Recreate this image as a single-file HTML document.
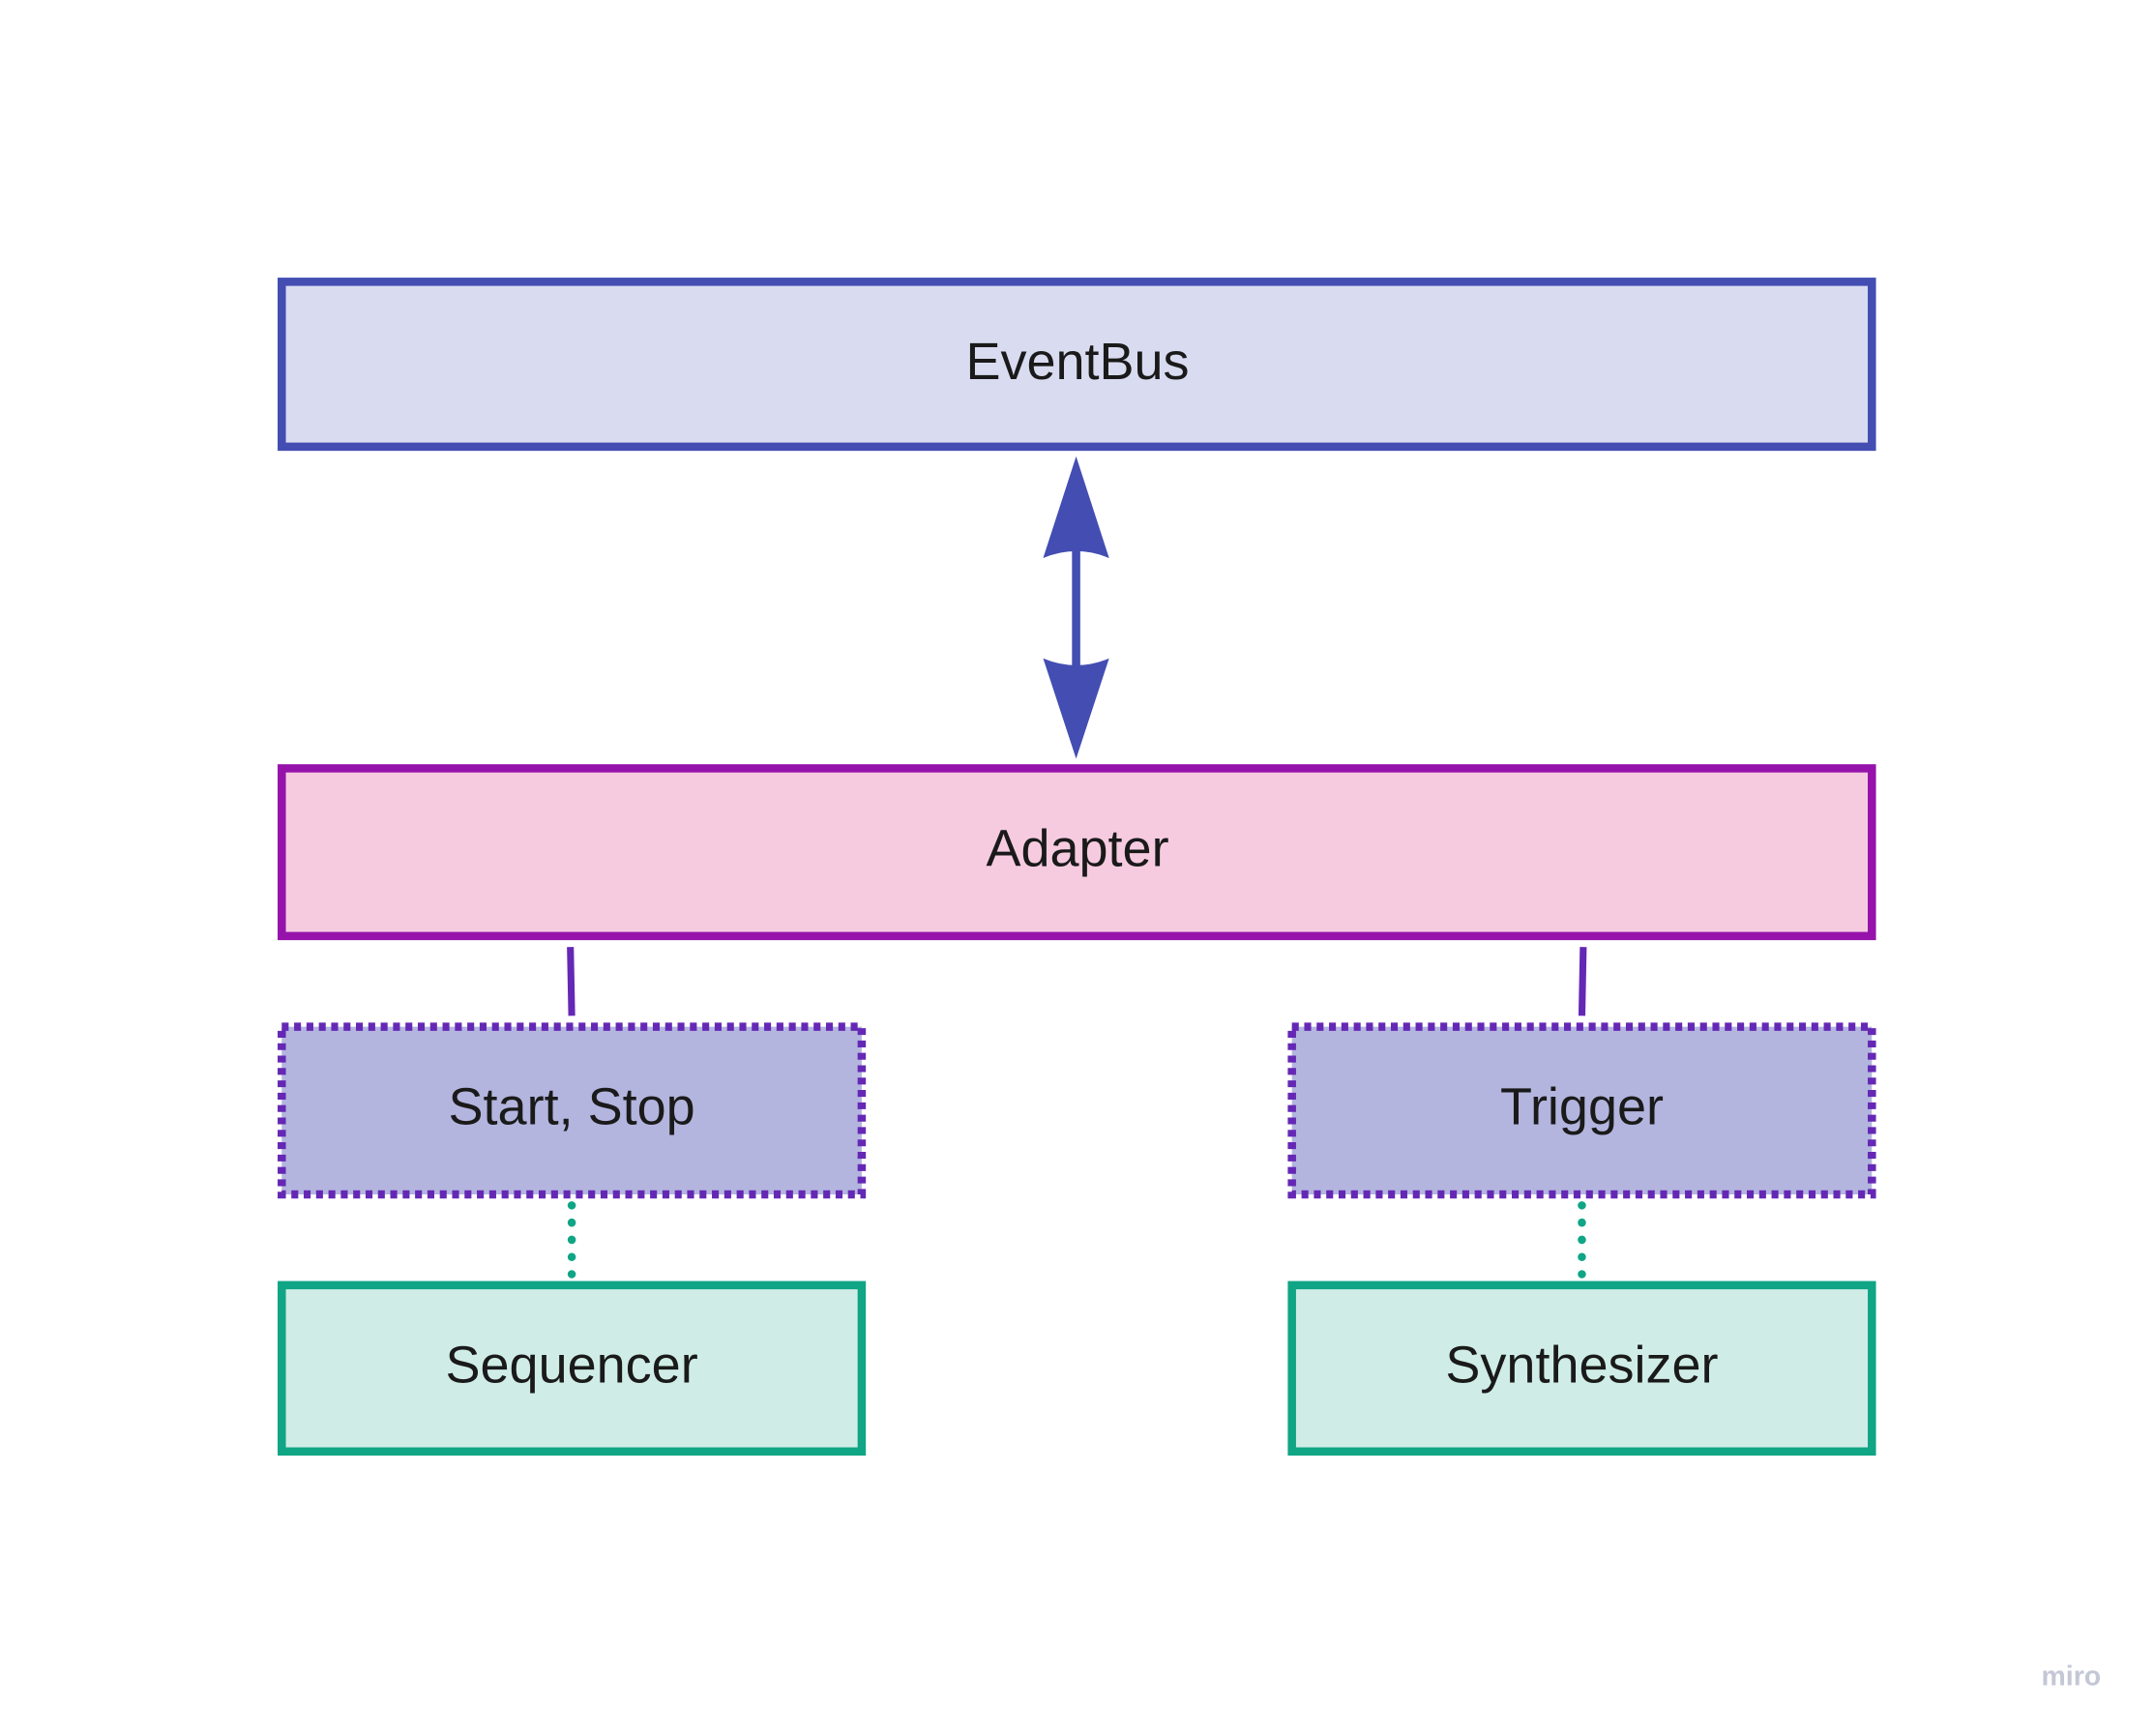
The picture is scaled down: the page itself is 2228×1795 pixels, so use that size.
<!DOCTYPE html>
<html><head><meta charset="utf-8"><style>
html,body{margin:0;padding:0;background:#fff;}
svg{display:block;}
text{font-family:"Liberation Sans",sans-serif;fill:#1a1a1a;}
</style></head><body>
<svg width="2228" height="1795" viewBox="0 0 1568 1263" preserveAspectRatio="none" xmlns="http://www.w3.org/2000/svg">
<rect x="0" y="0" width="1568" height="1263" fill="#fff"/>
<rect x="205" y="205" width="1157" height="120" fill="#d9dcf0" stroke="#434db2" stroke-width="6"/>
<text x="784" y="276" font-size="38" text-anchor="middle">EventBus</text>
<line x1="783" y1="395" x2="783" y2="490" stroke="#434db2" stroke-width="6"/>
<path d="M783 332 L807 406 Q783 396 759 406 Z" fill="#434db2"/>
<path d="M783 552 L807 479 Q783 489 759 479 Z" fill="#434db2"/>
<rect x="205" y="559" width="1157" height="122" fill="#f6cbe0" stroke="#9613ab" stroke-width="6"/>
<text x="784" y="630" font-size="38" text-anchor="middle">Adapter</text>
<line x1="415" y1="689" x2="416" y2="739" stroke="#6528b5" stroke-width="5"/>
<line x1="1152" y1="689" x2="1151" y2="739" stroke="#6528b5" stroke-width="5"/>
<rect x="205" y="747" width="422" height="122" fill="#b3b5de" stroke="#6528b5" stroke-width="6" stroke-dasharray="5 4"/>
<text x="416" y="818" font-size="38" text-anchor="middle">Start, Stop</text>
<rect x="940" y="747" width="422" height="122" fill="#b3b5de" stroke="#6528b5" stroke-width="6" stroke-dasharray="5 4"/>
<text x="1151" y="818" font-size="38" text-anchor="middle">Trigger</text>
<line x1="416" y1="877" x2="416" y2="928" stroke="#10a585" stroke-width="6" stroke-linecap="round" stroke-dasharray="0 12.5"/>
<line x1="1151" y1="877" x2="1151" y2="928" stroke="#10a585" stroke-width="6" stroke-linecap="round" stroke-dasharray="0 12.5"/>
<rect x="205" y="935" width="422" height="121" fill="#cfede6" stroke="#10a585" stroke-width="6"/>
<text x="416" y="1006" font-size="38" text-anchor="middle">Sequencer</text>
<rect x="940" y="935" width="422" height="121" fill="#cfede6" stroke="#10a585" stroke-width="6"/>
<text x="1151" y="1006" font-size="38" text-anchor="middle">Synthesizer</text>
<text x="1507" y="1226" font-size="20" font-weight="bold" text-anchor="middle" style="fill:#c4c7d6">miro</text>
</svg>
</body></html>
